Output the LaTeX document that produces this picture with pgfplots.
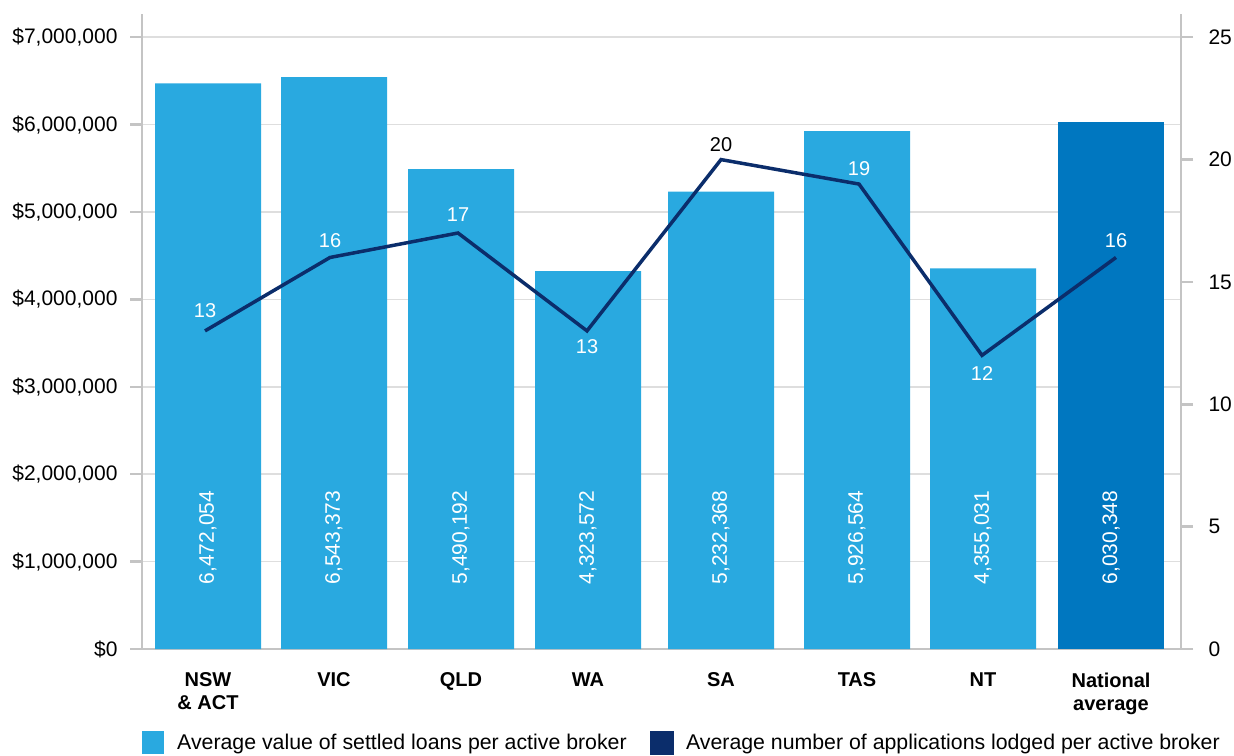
\documentclass[border=0pt]{standalone}
\usepackage{fontspec}
\setmainfont{Liberation Sans}
\usepackage{pgfplots}
\pgfplotsset{compat=1.18}
\usepackage{pgfplotstable}

\definecolor{barblue}{HTML}{29A9E0}
\definecolor{natblue}{HTML}{0077C0}
\definecolor{navy}{HTML}{0B2D6B}
\definecolor{axisgray}{HTML}{C4C4C4}
\definecolor{gridgray}{HTML}{DEDEDE}

% Average value of settled loans per active broker, by state
\pgfplotstableread{
x v lab
208 6472054 6,472,054
334 6543373 6,543,373
461 5490192 5,490,192
588 4323572 4,323,572
721 5232368 5,232,368
857 5926564 5,926,564
983 4355031 4,355,031
}\statebars
\pgfplotstableread{
x v lab
1111 6030348 6,030,348
}\natbar
% Average number of applications lodged per active broker
% (dy: vertical offset of the value label)
\pgfplotstableread{
x n dy
205 13 20
330 16 17
458 17 18
587 13 -16
721 20 15
859 19 15
982 12 -18
1116 16 17
}\apps

\newcommand{\tickfont}{\fontsize{21}{25}\selectfont}

\pgfplotsset{
  base/.style={
    scale only axis,
    width=1039pt, height=635pt,
    at={(142pt,106pt)}, anchor=south west,
    xmin=142, xmax=1181,
    ymin=0,
    axis line style={axisgray, line width=2.5pt},
    major tick length=12pt,
    tick align=outside,
    ytick style={axisgray, line width=2.5pt},
    scaled x ticks=false,
    scaled y ticks=false,
    /pgf/number format/assume math mode=true,
    tick label style={font=\tickfont},
    clip=false,
  },
}

\begin{document}
\begin{tikzpicture}
\useasboundingbox (0,0) rectangle (1234pt,755pt);

\begin{axis}[
  base,
  ymax=7266000,
  axis y line*=left,
  axis x line*=bottom,
  x axis line style={shorten >=-12pt},
  ytick={0,1000000,2000000,3000000,4000000,5000000,6000000,7000000},
  yticklabels={{\$0},{\$1,000,000},{\$2,000,000},{\$3,000,000},{\$4,000,000},{\$5,000,000},{\$6,000,000},{\$7,000,000}},
  yticklabel style={xshift=-9pt},
  ymajorgrids,
  grid style={gridgray, line width=1.5pt},
  xtick={208,334,461,588,721,857,983,1111},
  xticklabels={{NSW\\\& ACT},VIC,QLD,WA,SA,TAS,NT,{National\\average}},
  xtick style={draw=none},
  xticklabel style={font=\fontsize{20}{23}\selectfont\bfseries, align=center, anchor=north, yshift=-8pt},
  legend columns=2,
  legend cell align=left,
  legend style={at={(0,-0.1291)}, anchor=north west, draw=none, fill=none,
    inner sep=0pt, nodes={inner sep=0pt}, font=\fontsize{21.3}{25}\selectfont,
    /tikz/every odd column/.append style={column sep=13pt},
    /tikz/every even column/.append style={column sep=23pt}},
]
\addplot[ybar, bar width=106, bar shift=0pt, fill=barblue, draw=none,
  legend image code/.code={\fill[barblue] (0pt,-11.5pt) rectangle (22pt,11.5pt);}]
  table[x=x, y=v] {\statebars};
\addlegendentry{Average value of settled loans per active broker}
\addplot[ybar, bar width=106, bar shift=0pt, fill=natblue, draw=none, forget plot]
  table[x=x, y=v] {\natbar};
\addlegendimage{legend image code/.code={\fill[navy] (0pt,-11.5pt) rectangle (23pt,11.5pt);}}
\addlegendentry{Average number of applications lodged per active broker}

% value labels set inside the bars
\addplot[draw=none, forget plot,
  point meta=explicit symbolic,
  nodes near coords,
  every node near coord/.append style={rotate=90, anchor=center, text=white, font=\tickfont}]
  table[x=x, y expr=1276000, meta=lab] {\statebars};
\addplot[draw=none, forget plot,
  point meta=explicit symbolic,
  nodes near coords,
  every node near coord/.append style={rotate=90, anchor=center, text=white, font=\tickfont}]
  table[x=x, y expr=1276000, meta=lab] {\natbar};
\end{axis}

\begin{axis}[
  base,
  ymax=25.95,
  axis y line*=right,
  axis x line=none,
  xticklabels={},
  ytick={0,5,10,15,20,25},
  yticklabel style={anchor=west, xshift=12pt},
]
% the value labels are white over the bars; SA's stands on the open background
\addplot[navy, line width=3.5pt, mark=none,
  point meta=explicit symbolic,
  nodes near coords,
  visualization depends on={\thisrow{dy} \as \dy},
  visualization depends on={\thisrow{x} \as \px},
  every node near coord/.append style={anchor=center, yshift=\dy pt,
    font=\fontsize{20}{24}\selectfont,
    /utils/exec={\pgfmathparse{abs(\px-721)<1 ? 1 : 0}\ifdim\pgfmathresult pt>0.5pt\def\lblcol{black}\else\def\lblcol{white}\fi},
    text=\lblcol}]
  table[x=x, y=n, meta=n] {\apps};
\end{axis}
\end{tikzpicture}
\end{document}
